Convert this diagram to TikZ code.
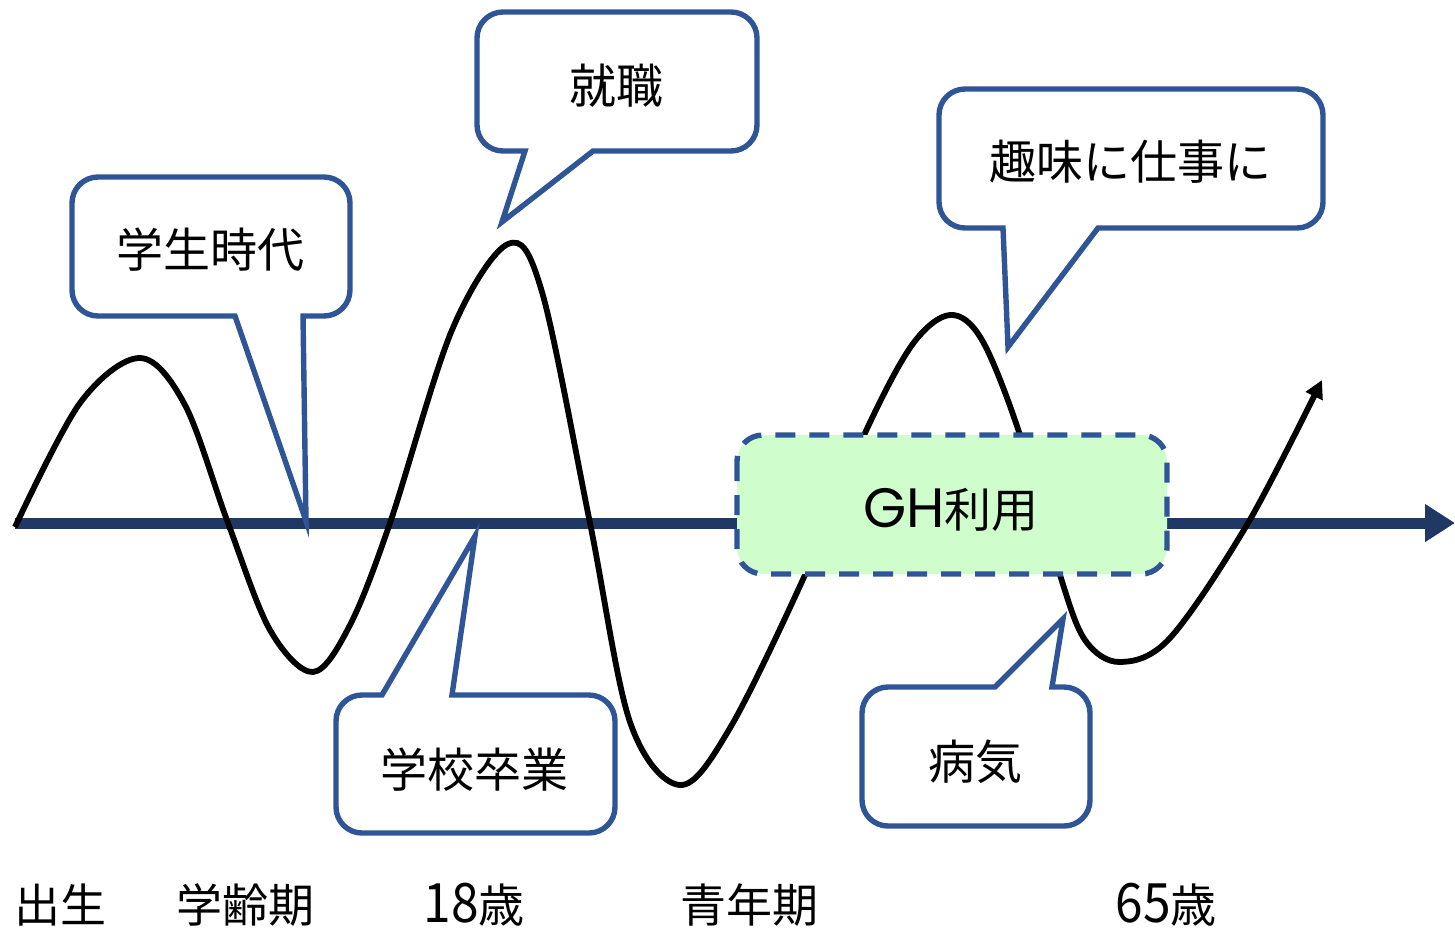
\documentclass[tikz,border=0pt]{standalone}
\usepackage{fontspec}
\setmainfont{Noto Sans CJK JP}
\newfontfamily\latinfont[Scale=1.18]{Poppins}
\usetikzlibrary{arrows.meta}
\definecolor{axisnavy}{HTML}{203864}
\definecolor{calloutblue}{HTML}{2F5597}
\definecolor{ghgreen}{HTML}{CFFDCB}
\newcommand{\tallnum}[1]{\scalebox{1.08}[1.18]{#1}}
\tikzset{
  callout/.style={draw=calloutblue, line width=2.7pt, fill=white, line join=miter},
  lbl/.style={font=\fontsize{23.5}{28}\selectfont, inner sep=0pt},
  bottomlbl/.style={font=\fontsize{23}{28}\selectfont, inner sep=0pt, anchor=base},
  axisline/.style={draw=axisnavy, line width=5.5pt, -{Triangle[length=15pt,width=18pt]}},
  lifecurve/.style={draw=black, line width=2.9pt, -{Triangle[length=9pt,width=9pt]}},
  ghbox/.style={draw=calloutblue, fill=ghgreen, line width=2.7pt, dash pattern=on 10pt off 7pt, rounded corners=13pt}
}
\begin{document}
\begin{tikzpicture}[x=0.5pt,y=-0.5pt]
\useasboundingbox (0,0) rectangle (1455,933);
% axis
\coordinate (a0) at (15,523);
\coordinate (a1) at (1455,523);
\draw[axisline] (a0) -- (a1);
% life curve
\draw[lifecurve] plot[smooth, tension=0.55] coordinates {
 (15,527) (80,403) (140,358) (185,405) (228,523) (270,630) (313,672) (350,625)
 (390,523) (452,330) (508,244) (542,292) (590,523) (630,722) (680,785) (730,728)
 (805,575) (865,433) (912,345) (950,315) (982,340) (1020,435) (1060,575) (1085,640) (1120,662)
 (1170,638) (1248,523) (1322,380)};
% callout 1: 学生時代
\draw[callout] (210,177) [rounded corners=13pt] -- (350,177) -- (350,316) [sharp corners] -- (303,316) -- (306,521) -- (235,316) [rounded corners=13pt] -- (72,316) -- (72,177) -- cycle;
\node[lbl] (c1) at (210,250) {学生時代};
% callout 2: 就職
\draw[callout] (616,12) [rounded corners=13pt] -- (757,12) -- (757,151) [sharp corners] -- (593,151) -- (502,222) -- (525,151) [rounded corners=13pt] -- (477,151) -- (477,12) -- cycle;
\node[lbl] (c2) at (616,86) {就職};
% callout 3: 趣味に仕事に
\draw[callout] (1130,89) [rounded corners=13pt] -- (1323,89) -- (1323,228) [sharp corners] -- (1098,228) -- (1008,347) -- (1003,228) [rounded corners=13pt] -- (939,228) -- (939,89) -- cycle;
\node[lbl] (c3) at (1130,162) {趣味に仕事に};
% callout 4: 学校卒業
\draw[callout] (475,833) [rounded corners=13pt] -- (336,833) -- (336,695) [sharp corners] -- (382,695) -- (475,536) -- (452,695) [rounded corners=13pt] -- (615,695) -- (615,833) -- cycle;
\node[lbl] (c4) at (474,770) {学校卒業};
% callout 5: 病気
\draw[callout] (975,826) [rounded corners=13pt] -- (862,826) -- (862,687) [sharp corners] -- (995,687) -- (1063,619) -- (1052,687) [rounded corners=13pt] -- (1090,687) -- (1090,826) -- cycle;
\node[lbl] (c5) at (975,762) {病気};
% GH box
\draw[ghbox] (737,435) rectangle (1167,574);
\node[lbl] (gh) at (951,510) {\smash{\latinfont GH}利用};
% bottom labels
\node[bottomlbl] (l1) at (60,922) {出生};
\node[bottomlbl] (l2) at (245,922) {学齢期};
\node[bottomlbl] (l3) at (474,922) {\tallnum{18}歳};
\node[bottomlbl] (l4) at (749,922) {青年期};
\node[bottomlbl] (l5) at (1166,922) {\tallnum{65}歳};
\end{tikzpicture}
\end{document}
